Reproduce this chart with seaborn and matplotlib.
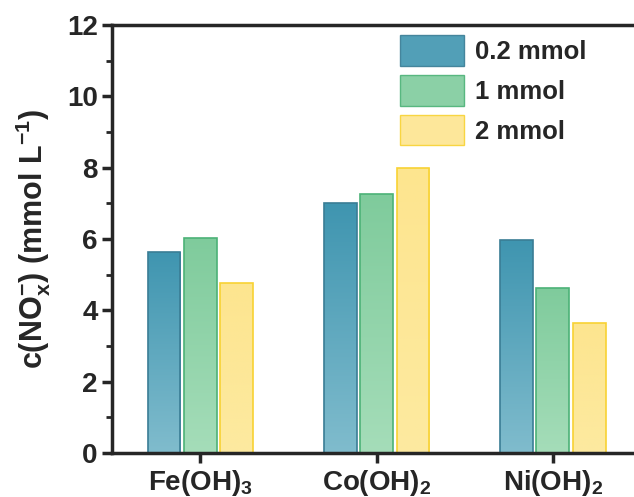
import numpy as np
import pandas as pd
import matplotlib
matplotlib.use('Agg')
import matplotlib.pyplot as plt
import seaborn as sns
from matplotlib.colors import LinearSegmentedColormap

# data
categories = ['Fe(OH)$_\\mathbf{3}$', 'Co(OH)$_\\mathbf{2}$', 'Ni(OH)$_\\mathbf{2}$']
doses = ['0.2 mmol', '1 mmol', '2 mmol']
val_02 = [5.64, 7.01, 5.97]
val_1 = [6.03, 7.26, 4.63]
val_2 = [4.77, 7.99, 3.64]

# colours: top of bar, bottom of bar, edge
tops = ['#3f95b0', '#7fcb9c', '#fde58f']
bottoms = ['#80bccd', '#a5ddb9', '#fdeaa0']
edges = ['#3a7d95', '#4cb277', '#f8d233']

df = pd.DataFrame({
    'cat': categories * 3,
    'dose': [d for d in doses for _ in categories],
    'val': val_02 + val_1 + val_2,
})

sns.set_style('ticks')
plt.rcParams['font.family'] = ['Liberation Sans', 'DejaVu Sans']
plt.rcParams['font.weight'] = 'bold'
plt.rcParams['mathtext.fontset'] = 'custom'
plt.rcParams['mathtext.bf'] = 'Liberation Sans:bold'
plt.rcParams['mathtext.rm'] = 'Liberation Sans:bold'
plt.rcParams['mathtext.default'] = 'bf'

fig = plt.figure(figsize=(6.34, 4.97), dpi=100)
ax = fig.add_axes([0.177, 0.0885, 0.834, 0.861])

sns.barplot(data=df, x='cat', y='val', hue='dose', palette=tops,
            width=0.62, gap=0.1, ax=ax, legend=True)

# vertical gradient fill clipped to each bar
for cont, top, bot, ec in zip(ax.containers, tops, bottoms, edges):
    cmap = LinearSegmentedColormap.from_list('g', [bot, top])
    for p in cont:
        x0 = p.get_x()
        w = p.get_width()
        h = p.get_height()
        p.set_facecolor('none')
        p.set_edgecolor(ec)
        p.set_linewidth(1.2)
        grad = np.linspace(0, 1, 256).reshape(-1, 1)
        im = ax.imshow(grad, cmap=cmap, origin='lower', aspect='auto',
                       extent=[x0, x0 + w, 0, h], zorder=p.get_zorder() - 0.1)
        im.set_clip_path(p)

ax.set_xlim(-0.5, 2.5)
ax.set_ylim(0, 12)
ax.set_yticks([0, 2, 4, 6, 8, 10, 12])
ax.set_yticks([1, 3, 5, 7, 9, 11], minor=True)

for s in ax.spines.values():
    s.set_linewidth(2.5)
    s.set_visible(True)
ax.tick_params(axis='both', which='major', length=7, width=2.5, labelsize=20, direction='out')
ax.tick_params(axis='y', which='minor', length=4, width=2, direction='out')
ax.tick_params(axis='x', pad=4)
ax.set_xlabel('')
ax.set_ylabel('c(NO$_\\mathbf{x}^\\mathbf{-}$) (mmol L$^\\mathbf{-1}$)', fontsize=22, fontweight='bold', labelpad=10)

leg = ax.legend(loc='upper right', bbox_to_anchor=(0.94, 1.03), frameon=False,
                fontsize=18.5, handlelength=2.5, handleheight=1.45, labelspacing=0.36,
                handletextpad=0.4)
for h, top, ec in zip(leg.legend_handles, tops, edges):
    h.set_facecolor(top)
    h.set_edgecolor(ec)
    h.set_alpha(0.9)
for t in leg.get_texts():
    t.set_fontweight('bold')

fig.savefig('out.png', dpi=100)
